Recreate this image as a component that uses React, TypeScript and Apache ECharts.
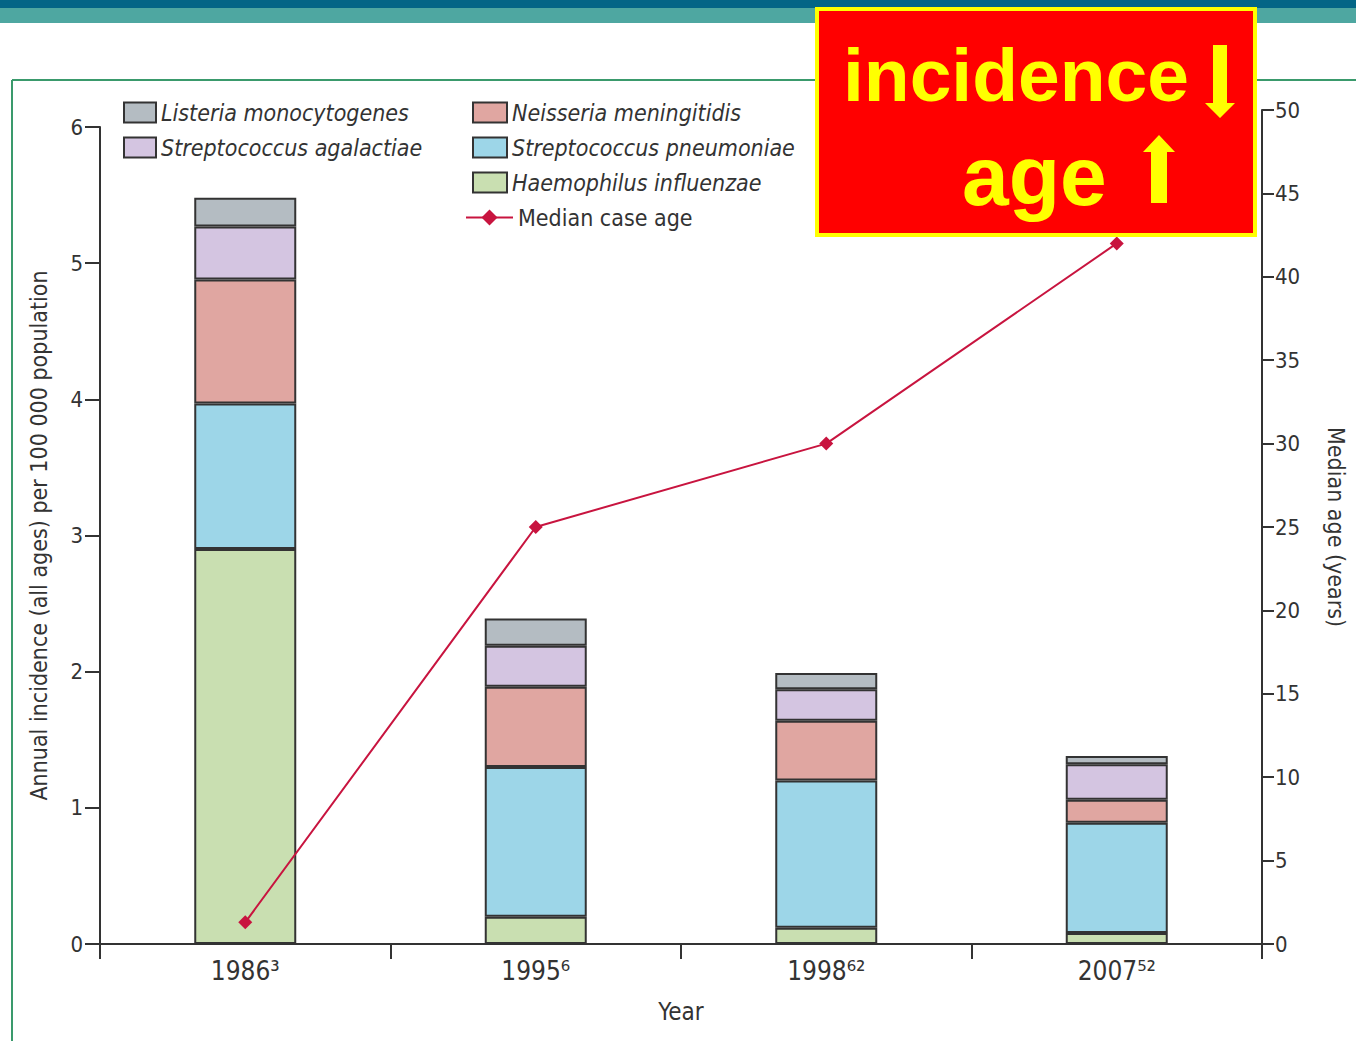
import React, { useEffect, useRef } from "react";
import * as echarts from "echarts";

const categories = ["1986³", "1995⁶", "1998⁶²", "2007⁵²"];
const haemophilus = [2.9, 0.2, 0.12, 0.08];
const pneumoniae = [1.07, 1.1, 1.08, 0.81];
const meningitidis = [0.91, 0.59, 0.44, 0.17];
const agalactiae = [0.39, 0.3, 0.23, 0.26];
const listeria = [0.21, 0.2, 0.12, 0.06];
const medianAge = [1.3, 25, 30, 42];

const FONT = "DejaVu Sans Condensed";
const TXT = "#333";

export default function App() {
  const ref = useRef<HTMLDivElement>(null);
  useEffect(() => {
    document.body.style.margin = "0";
    const chart = echarts.init(ref.current!, undefined, { renderer: "svg" });
    const barStyle = (color: string) => ({ color, borderColor: "#333", borderWidth: 2 });
    const bar = (name: string, data: number[], color: string) => ({
      name,
      type: "bar",
      stack: "inc",
      data,
      barWidth: 102,
      xAxisIndex: 0,
      yAxisIndex: 0,
      itemStyle: barStyle(color),
    });
    const legendText = { fontFamily: FONT, fontSize: 23, fontStyle: "italic", color: TXT };
    chart.setOption({
      animation: false,
      textStyle: { fontFamily: FONT },
      grid: [
        { left: 100, right: 94, top: 127, bottom: 97 },
        { left: 100, right: 94, top: 110, bottom: 97 },
      ],
      legend: [
        {
          orient: "vertical", left: 123, top: 101, padding: 0, itemWidth: 32, itemHeight: 20, itemGap: 12,
          icon: "rect", textStyle: legendText,
          data: ["Listeria monocytogenes", "Streptococcus agalactiae"],
        },
        {
          orient: "vertical", left: 472, top: 101, padding: 0, itemWidth: 34, itemHeight: 20, itemGap: 12,
          icon: "rect", textStyle: legendText,
          data: ["Neisseria meningitidis", "Streptococcus pneumoniae", "Haemophilus influenzae"],
        },
        {
          orient: "vertical", left: 465, top: 206, padding: 0, itemWidth: 47, itemHeight: 20,
          textStyle: { ...legendText, fontStyle: "normal" },
          data: ["Median case age"],
        },
      ],
      xAxis: [
        {
          type: "category", gridIndex: 0, data: categories,
          name: "Year", nameLocation: "middle", nameGap: 56,
          nameTextStyle: { fontFamily: FONT, fontSize: 24, color: TXT },
          axisLine: { lineStyle: { color: "#333", width: 2 } },
          axisTick: { show: true, length: 15, alignWithLabel: false, lineStyle: { color: "#333", width: 2 } },
          axisLabel: { fontFamily: FONT, fontSize: 26, color: TXT, margin: 14 },
        },
        { type: "category", gridIndex: 1, data: categories, show: false },
      ],
      yAxis: [
        {
          type: "value", gridIndex: 0, min: 0, max: 6, interval: 1, position: "left",
          name: "Annual incidence (all ages) per 100 000 population",
          nameLocation: "middle", nameGap: 50,
          nameTextStyle: { fontFamily: FONT, fontSize: 23, color: TXT },
          axisLine: { show: true, lineStyle: { color: "#333", width: 2 } },
          axisTick: { show: true, length: 15, lineStyle: { color: "#333", width: 2 } },
          axisLabel: { fontFamily: FONT, fontSize: 22, color: TXT, margin: 17 },
          splitLine: { show: false },
        },
        {
          type: "value", gridIndex: 1, min: 0, max: 50, interval: 5, position: "right",
          name: "Median age (years)", nameLocation: "middle", nameGap: 62, nameRotate: -90,
          nameTextStyle: { fontFamily: FONT, fontSize: 23, color: TXT },
          axisLine: { show: true, lineStyle: { color: "#333", width: 2 } },
          axisTick: { show: true, length: 12, lineStyle: { color: "#333", width: 2 } },
          axisLabel: { fontFamily: FONT, fontSize: 22, color: TXT, margin: 13 },
          splitLine: { show: false },
        },
      ],
      series: [
        bar("Haemophilus influenzae", haemophilus, "#c9dfb1"),
        bar("Streptococcus pneumoniae", pneumoniae, "#9dd6e8"),
        bar("Neisseria meningitidis", meningitidis, "#e0a6a1"),
        bar("Streptococcus agalactiae", agalactiae, "#d4c5e1"),
        bar("Listeria monocytogenes", listeria, "#b4bcc2"),
        {
          name: "Median case age",
          type: "line",
          xAxisIndex: 1,
          yAxisIndex: 1,
          data: medianAge,
          symbol: "diamond",
          symbolSize: 14,
          lineStyle: { color: "#c8143f", width: 2 },
          itemStyle: { color: "#c8143f" },
          z: 10,
        },
      ],
      graphic: [
        { type: "rect", z: 1, shape: { x: 0, y: 0, width: 1356, height: 8 }, style: { fill: "#036586" } },
        { type: "rect", z: 1, shape: { x: 0, y: 8, width: 1356, height: 15 }, style: { fill: "#4ea7a1" } },
        { type: "line", z: 1, shape: { x1: 12, y1: 80, x2: 1356, y2: 80 }, style: { stroke: "#3a9a6c", lineWidth: 2 } },
        { type: "line", z: 1, shape: { x1: 12, y1: 80, x2: 12, y2: 1041 }, style: { stroke: "#3a9a6c", lineWidth: 2 } },
        {
          type: "rect", z: 100,
          shape: { x: 817, y: 9, width: 438, height: 226 },
          style: { fill: "#ff0000", stroke: "#ffff00", lineWidth: 4 },
        },
        {
          type: "text", z: 101, left: 843, top: 37,
          style: { text: "incidence", fill: "#ffff00", font: "bold 75px 'Liberation Sans', Arial, sans-serif" },
        },
        {
          type: "text", z: 101, left: 962, top: 134,
          style: { text: "age", fill: "#ffff00", font: "bold 84px 'Liberation Sans', Arial, sans-serif" },
        },
        {
          type: "polygon", z: 101,
          shape: { points: [[1213, 45], [1227, 45], [1227, 103], [1235, 103], [1220, 118], [1205, 103], [1213, 103]] },
          style: { fill: "#ffff00" },
        },
        {
          type: "polygon", z: 101,
          shape: { points: [[1151, 203], [1167, 203], [1167, 152], [1175, 152], [1159, 135], [1143, 152], [1151, 152]] },
          style: { fill: "#ffff00" },
        },
      ],
    });
    return () => chart.dispose();
  }, []);
  return <div ref={ref} style={{ width: 1356, height: 1041 }} />;
}
